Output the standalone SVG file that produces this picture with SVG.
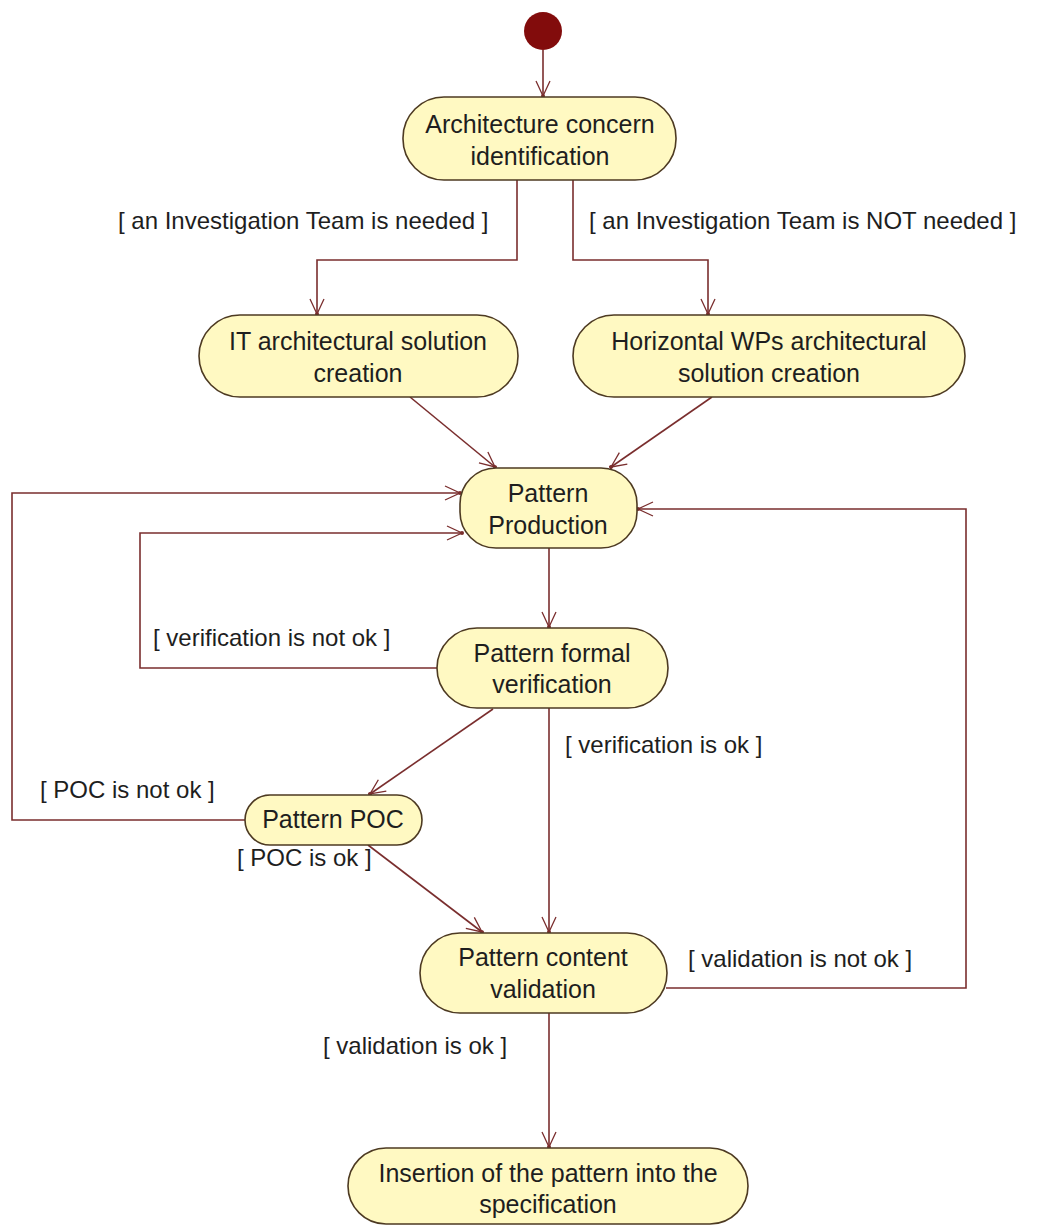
<svg xmlns="http://www.w3.org/2000/svg" width="1059" height="1226" viewBox="0 0 1059 1226">
  <defs>
    <style>
      .node rect { fill: #fff9c2; stroke: #4d3a22; stroke-width: 1.6; }
      .node text { font-family: "Liberation Sans", Arial, sans-serif; font-size: 25px; fill: #1e1e1e; text-anchor: middle; }
      .edge { fill: none; stroke: #7a2e2e; stroke-width: 1.6; marker-end: url(#arr); }
      .label { font-family: "Liberation Sans", Arial, sans-serif; font-size: 24px; fill: #1e1e1e; }
    </style>
    <marker id="arr" viewBox="-18 -10 20 20" refX="0" refY="0" markerWidth="20" markerHeight="20" markerUnits="userSpaceOnUse" orient="auto">
      <path d="M-15,-7 L0,0 L-15,7" fill="none" stroke="#7a2e2e" stroke-width="1.3"/>
      <circle cx="0" cy="0" r="2" fill="#7a2e2e"/>
    </marker>
  </defs>
  <rect width="1059" height="1226" fill="#ffffff"/>

  <g id="connectors">
    <path class="edge" d="M543,50 L543,96"/>
    <path class="edge" d="M517,180 L517,260 L317,260 L317,314"/>
    <path class="edge" d="M573,180 L573,260 L708,260 L708,314"/>
    <path class="edge" d="M410,397 L495,467"/>
    <path class="edge" d="M712,397 L611,467"/>
    <path class="edge" d="M549,548 L549,627"/>
    <path class="edge" d="M437,668 L140,668 L140,533 L462,533"/>
    <path class="edge" d="M493,709 L370,794"/>
    <path class="edge" d="M549,708 L549,932"/>
    <path class="edge" d="M245,820 L12,820 L12,493 L460,493"/>
    <path class="edge" d="M368,845 L482,932"/>
    <path class="edge" d="M666,988 L966,988 L966,509 L638,509"/>
    <path class="edge" d="M549,1013 L549,1147"/>
  </g>

  <g id="labels">
    <text class="label" x="118" y="229">[ an Investigation Team is needed ]</text>
    <text class="label" x="589" y="229">[ an Investigation Team is NOT needed ]</text>
    <text class="label" x="153" y="646">[ verification is not ok ]</text>
    <text class="label" x="565" y="753">[ verification is ok ]</text>
    <text class="label" x="40" y="798">[ POC is not ok ]</text>
    <text class="label" x="237" y="866">[ POC is ok ]</text>
    <text class="label" x="688" y="967">[ validation is not ok ]</text>
    <text class="label" x="323" y="1054">[ validation is ok ]</text>
  </g>

  <g id="start">
    <circle cx="543" cy="31" r="19" fill="#820c0c"/>
  </g>

  <g id="n-arch" class="node">
    <rect x="403" y="97" width="273" height="83" rx="41" ry="41"/>
    <text x="540" y="133">Architecture concern</text>
    <text x="540" y="165">identification</text>
  </g>

  <g id="n-it" class="node">
    <rect x="199" y="315" width="319" height="82" rx="41" ry="41"/>
    <text x="358" y="350">IT architectural solution</text>
    <text x="358" y="382">creation</text>
  </g>

  <g id="n-horiz" class="node">
    <rect x="573" y="315" width="392" height="82" rx="41" ry="41"/>
    <text x="769" y="350">Horizontal WPs architectural</text>
    <text x="769" y="382">solution creation</text>
  </g>

  <g id="n-prod" class="node">
    <rect x="460" y="468" width="177" height="80" rx="36" ry="36"/>
    <text x="548" y="502">Pattern</text>
    <text x="548" y="534">Production</text>
  </g>

  <g id="n-verif" class="node">
    <rect x="437" y="628" width="231" height="80" rx="40" ry="40"/>
    <text x="552" y="662">Pattern formal</text>
    <text x="552" y="693">verification</text>
  </g>

  <g id="n-poc" class="node">
    <rect x="245" y="795" width="177" height="50" rx="25" ry="25"/>
    <text x="333" y="828">Pattern POC</text>
  </g>

  <g id="n-valid" class="node">
    <rect x="420" y="933" width="247" height="80" rx="40" ry="40"/>
    <text x="543" y="966">Pattern content</text>
    <text x="543" y="998">validation</text>
  </g>

  <g id="n-insert" class="node">
    <rect x="348" y="1148" width="400" height="76" rx="38" ry="38"/>
    <text x="548" y="1182">Insertion of the pattern into the</text>
    <text x="548" y="1213">specification</text>
  </g>
</svg>
